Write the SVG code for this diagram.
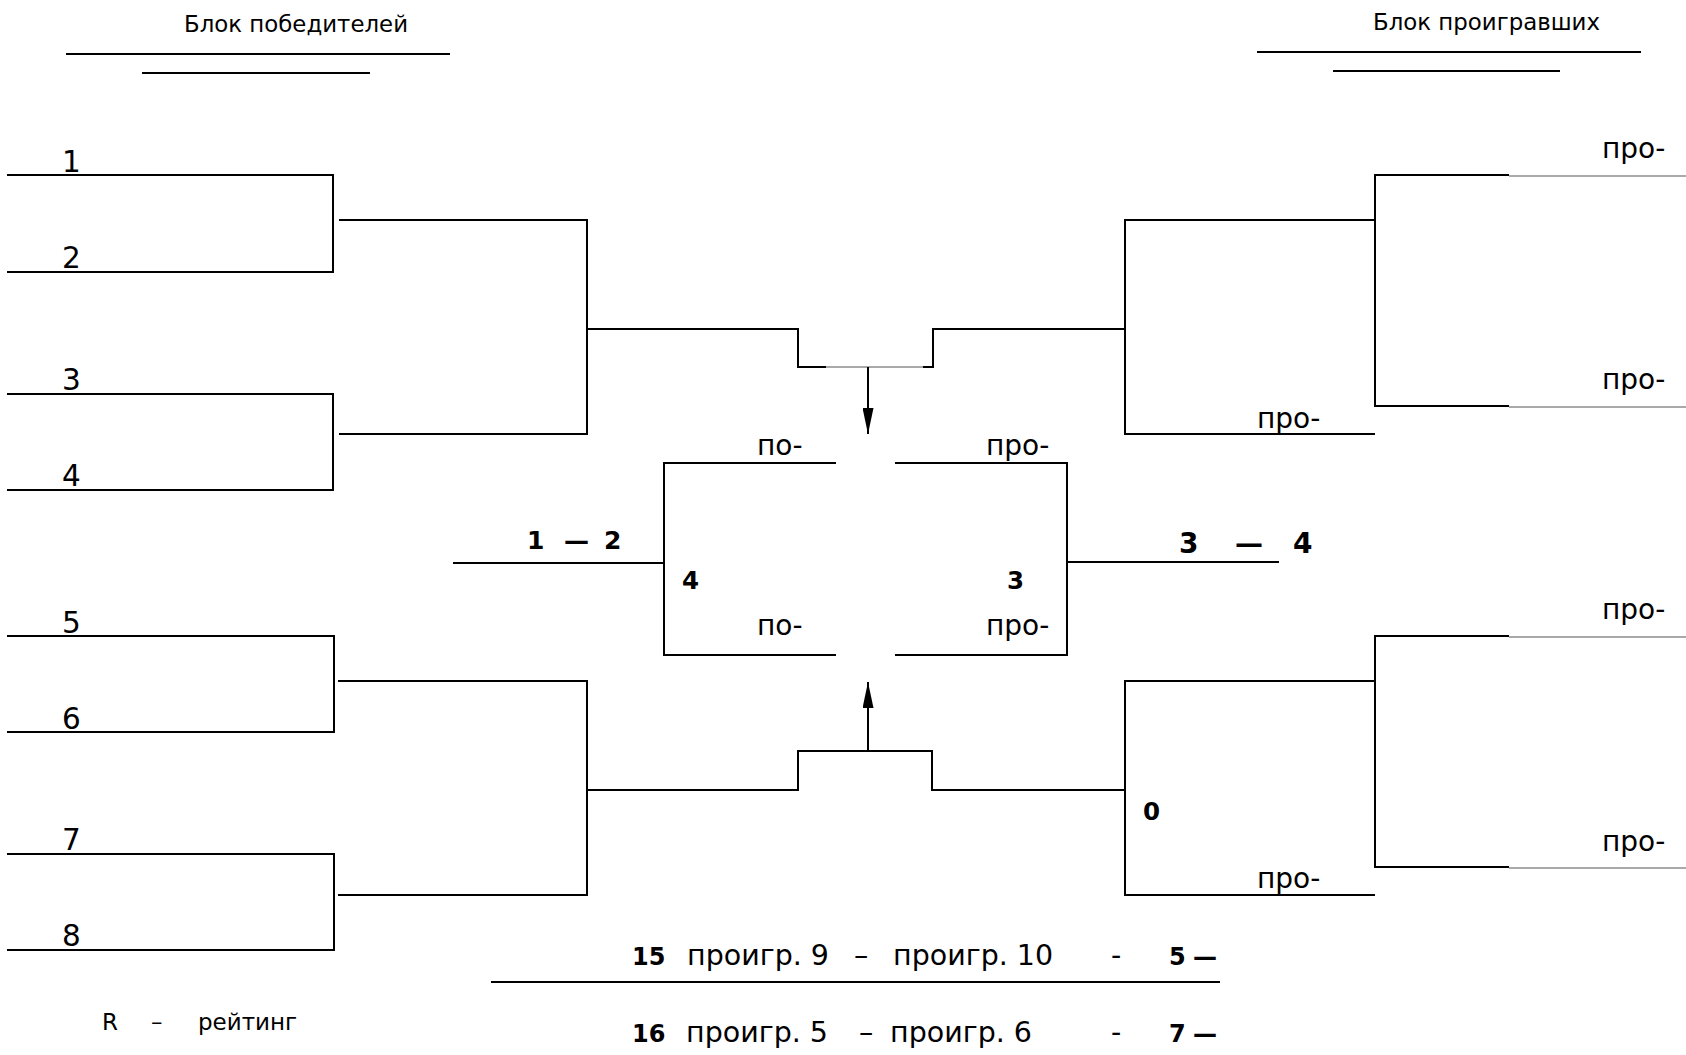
<svg xmlns="http://www.w3.org/2000/svg" width="1686" height="1055" viewBox="0 0 1686 1055">
<defs>
<marker id="ah" markerUnits="userSpaceOnUse" markerWidth="26" markerHeight="11" viewBox="0 0 26 11" refX="26" refY="5.5" orient="auto"><path d="M0,0 L26,5.5 L0,11 z" fill="#000"/></marker>
</defs>
<style>
.ln{stroke:#000;stroke-width:2;fill:none}
.thin{stroke:#555;stroke-width:1.2;fill:none}
.arr{stroke:#000;stroke-width:2;fill:none;marker-end:url(#ah)}
text{font-family:"DejaVu Sans","Liberation Sans",sans-serif;fill:#000}
.h{font-size:22.5px}
.n{font-size:29.5px}
.t{font-size:28px}
.r{font-size:28.5px}
.b{font-weight:bold}
</style>
<rect width="1686" height="1055" fill="#fff"/>

<g id="header-winners">
<text class="h" x="184" y="32" textLength="224" lengthAdjust="spacingAndGlyphs">Блок победителей</text>
<path class="ln" d="M66,54 H450 M142,73 H370"/>
</g>
<g id="header-losers">
<text class="h" x="1373" y="30" textLength="227" lengthAdjust="spacingAndGlyphs">Блок проигравших</text>
<path class="ln" d="M1257,52 H1641 M1333,71 H1560"/>
</g>

<g id="match-1-2">
<path class="ln" d="M7,175 H333 V272 H7"/>
<text class="n" x="62" y="172">1</text>
<text class="n" x="62" y="268">2</text>
</g>
<g id="match-3-4">
<path class="ln" d="M7,394 H333 V490 H7"/>
<text class="n" x="62" y="390">3</text>
<text class="n" x="62" y="486">4</text>
</g>
<g id="match-5-6">
<path class="ln" d="M7,636 H334 V732 H7"/>
<text class="n" x="62" y="633">5</text>
<text class="n" x="62" y="729">6</text>
</g>
<g id="match-7-8">
<path class="ln" d="M7,854 H334 V950 H7"/>
<text class="n" x="62" y="850">7</text>
<text class="n" x="62" y="946">8</text>
</g>
<g id="winners-semi-top">
<path class="ln" d="M339,220 H587 V434 H339"/>
</g>
<g id="winners-semi-bottom">
<path class="ln" d="M338,681 H587 V895 H338"/>
</g>

<g id="final-box">
<path class="ln" d="M836,463 H664 V655 H836"/>
<path class="ln" d="M895,463 H1067 V655 H895"/>
<path class="ln" d="M453,563 H664"/>
<path class="ln" d="M1067,562 H1279"/>
<text class="t" x="757" y="455">по-</text>
<text class="t" x="757" y="635">по-</text>
<text class="t" x="986" y="455">про-</text>
<text class="t" x="986" y="635">про-</text>
<text class="b" font-size="25" y="549"><tspan x="527">1 </tspan><tspan x="564">— </tspan><tspan x="604">2</tspan></text>
<text class="b" font-size="24.5" x="682" y="589">4</text>
<text class="b" font-size="24.5" x="1007" y="589">3</text>
<text class="b" font-size="28" y="553"><tspan x="1179">3 </tspan><tspan x="1235">— </tspan><tspan x="1293">4</tspan></text>
</g>

<g id="losers-top">
<path class="ln" d="M1375,220 H1125 V434 H1375"/>
<path class="ln" d="M1509,175 H1375 V406 H1509"/>
<path class="thin" d="M1509,176 H1686 M1509,407 H1686"/>
<text class="t" x="1257" y="428">про-</text>
<text class="t" x="1602" y="158">про-</text>
<text class="t" x="1602" y="389">про-</text>
</g>
<g id="losers-bottom">
<path class="ln" d="M1375,681 H1125 V895 H1375"/>
<path class="ln" d="M1509,636 H1375 V867 H1509"/>
<path class="thin" d="M1509,637 H1686 M1509,868 H1686"/>
<text class="t" x="1257" y="888">про-</text>
<text class="t" x="1602" y="619">про-</text>
<text class="t" x="1602" y="851">про-</text>
<text class="b" font-size="24.5" x="1143" y="820">0</text>
</g>

<g id="connectors">
<path class="ln" d="M587,329 H798 V367 H826"/>
<path class="thin" d="M826,367 H923"/>
<path class="ln" d="M923,367 H933 V329 H1125"/>
<path class="arr" d="M868,367 V434"/>
<path class="ln" d="M587,790 H798 V751 H932 V790 H1125"/>
<path class="arr" d="M868,751 V682"/>
</g>

<g id="bottom-notes">
<text y="965"><tspan class="b" font-size="24" x="632">15 </tspan><tspan class="r" x="687">проигр. 9 </tspan><tspan class="r" x="854">– </tspan><tspan class="r" x="893">проигр. 10 </tspan><tspan class="r" x="1111">- </tspan><tspan class="b" font-size="24" x="1169">5 </tspan><tspan class="b" font-size="24" x="1193">—</tspan></text>
<path class="ln" d="M491,982 H1220"/>
<text y="1042"><tspan class="b" font-size="24" x="632">16 </tspan><tspan class="r" x="686">проигр. 5 </tspan><tspan class="r" x="859">– </tspan><tspan class="r" x="890">проигр. 6 </tspan><tspan class="r" x="1111">- </tspan><tspan class="b" font-size="24" x="1169">7 </tspan><tspan class="b" font-size="24" x="1193">—</tspan></text>
<text font-size="23" y="1030"><tspan x="102">R </tspan><tspan x="151">– </tspan><tspan x="198">рейтинг</tspan></text>
</g>
</svg>
